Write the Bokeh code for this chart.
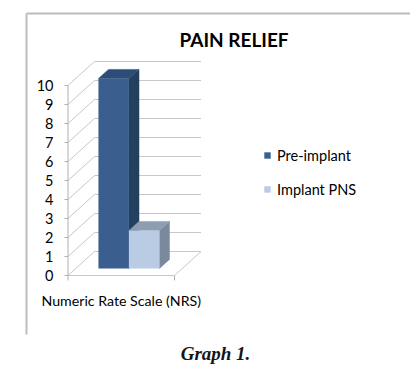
from bokeh.plotting import figure
from bokeh.models import Range1d, Label, Legend, LegendItem
from bokeh.core.properties import value
from bokeh.embed import file_html
from bokeh.resources import INLINE

# ---------------- data ----------------
chart_title = "PAIN RELIEF"
category = "Numeric Rate Scale (NRS)"
series = ["Pre-implant", "Implant PNS"]
values = [10, 2]
y_ticks = [0, 1, 2, 3, 4, 5, 6, 7, 8, 9, 10]
caption = "Graph 1."

# ---------------- styling ----------------
front_colors = ["#3A5F8E", "#B9CCE4"]
top_colors = ["#2D4D78", "#8D9DB2"]
side_colors = ["#24405F", "#7A8A9C"]
grid_color = "#C8C8C8"
frame_color = "#BDBDBD"
FONT = "Lato"

W, H = 410, 366
PX_X = 106.5   # pixels per category-floor width
PX_Y = 19.0    # pixels per NRS unit
X0_PAGE, Y0_PAGE = 67.5, 275.0


def dx(page_x):
    return (page_x - X0_PAGE) / PX_X


def dy(page_y):
    return (Y0_PAGE - page_y) / PX_Y


DEPTH_X = 26.5 / PX_X
DEPTH_Y = 24.0 / PX_Y
F1, F2 = 0.29, 0.67          # bar depth fractions (front / back)
BAR_W = 30.5 / PX_X

p = figure(width=W, height=H,
           x_range=Range1d(dx(0), dx(W)),
           y_range=Range1d(dy(H), dy(0)),
           x_axis_location=None, y_axis_location=None,
           output_backend="svg", toolbar_location=None, min_border=0)
p.grid.visible = False
p.outline_line_color = None
p.background_fill_color = "white"

# chart frame (top and left edges)
p.segment(x0=[dx(26), dx(26)], y0=[dy(13), dy(13)], x1=[dx(410), dx(26)], y1=[dy(13), dy(334)],
          line_color=frame_color, line_width=2)

# 3D walls gridlines
top = max(y_ticks)
p.segment(x0=[DEPTH_X] * len(y_ticks), y0=[t + DEPTH_Y for t in y_ticks],
          x1=[1 + DEPTH_X] * len(y_ticks), y1=[t + DEPTH_Y for t in y_ticks],
          line_color=grid_color, line_width=1)
p.segment(x0=[0] * len(y_ticks), y0=y_ticks,
          x1=[DEPTH_X] * len(y_ticks), y1=[t + DEPTH_Y for t in y_ticks],
          line_color=grid_color, line_width=1)
# floor edges
p.segment(x0=[0, 1], y0=[0, 0], x1=[1, 1 + DEPTH_X], y1=[0, DEPTH_Y],
          line_color=grid_color, line_width=1)
# vertical axis line and ticks
p.segment(x0=[0], y0=[dy(280)], x1=[0], y1=[top], line_color="#B0B0B0", line_width=1)
p.segment(x0=[-3.5 / PX_X] * len(y_ticks), y0=y_ticks, x1=[0] * len(y_ticks), y1=y_ticks,
          line_color="#B0B0B0", line_width=1)
p.segment(x0=[1], y0=[0], x1=[1], y1=[dy(280)], line_color="#B0B0B0", line_width=1)

# bars
fronts = []
n = len(values)
for i, v in enumerate(values):
    x0 = 0.5 - n * BAR_W / 2 + i * BAR_W
    x1 = x0 + BAR_W
    fx1, fy1 = F1 * DEPTH_X, F1 * DEPTH_Y
    fx2, fy2 = F2 * DEPTH_X, F2 * DEPTH_Y
    p.patch(x=[x1 + fx1, x1 + fx2, x1 + fx2, x1 + fx1], y=[fy1, fy2, v + fy2, v + fy1],
            fill_color=side_colors[i], line_color=side_colors[i], line_width=0.5)
    p.patch(x=[x0 + fx1, x1 + fx1, x1 + fx2, x0 + fx2], y=[v + fy1, v + fy1, v + fy2, v + fy2],
            fill_color=top_colors[i], line_color=top_colors[i], line_width=0.5)
    r = p.quad(left=[x0 + fx1], right=[x1 + fx1], bottom=[fy1], top=[v + fy1],
               fill_color=front_colors[i], line_color=None)
    fronts.append(r)

# y tick labels
p.text(x=[dx(53)] * len(y_ticks), y=y_ticks, text=[str(t) for t in y_ticks],
       text_align="right", text_baseline="middle", text_color="#000000",
       text_font=value(FONT), text_font_size="14.5px")

# category label
p.text(x=[0.5], y=[dy(300)], text=[category], text_align="center", text_baseline="middle",
       text_color="#000000", text_font=value(FONT), text_font_size="14.2px")

# title
p.add_layout(Label(x=dx(233.5), y=dy(39), text=chart_title, text_align="center",
                   text_baseline="middle", text_font=FONT, text_font_style="bold",
                   text_font_size="19px", text_color="#000000"))

# caption
p.add_layout(Label(x=dx(215), y=dy(352.5), text=caption, text_align="center",
                   text_baseline="middle", text_font="Liberation Serif",
                   text_font_style="bold italic", text_font_size="19px", text_color="#151515"))

legend = Legend(items=[LegendItem(label=series[i], renderers=[fronts[i]]) for i in range(n)],
                location=(263, H - 145 - 54), orientation="vertical",
                border_line_color=None, background_fill_alpha=0,
                padding=0, margin=0, spacing=14,
                glyph_width=8, glyph_height=8, label_standoff=6, label_height=20,
                label_text_font=FONT, label_text_font_size="14.5px",
                label_text_color="#000000")
p.add_layout(legend)

open("out.html", "w").write(file_html(p, INLINE))
